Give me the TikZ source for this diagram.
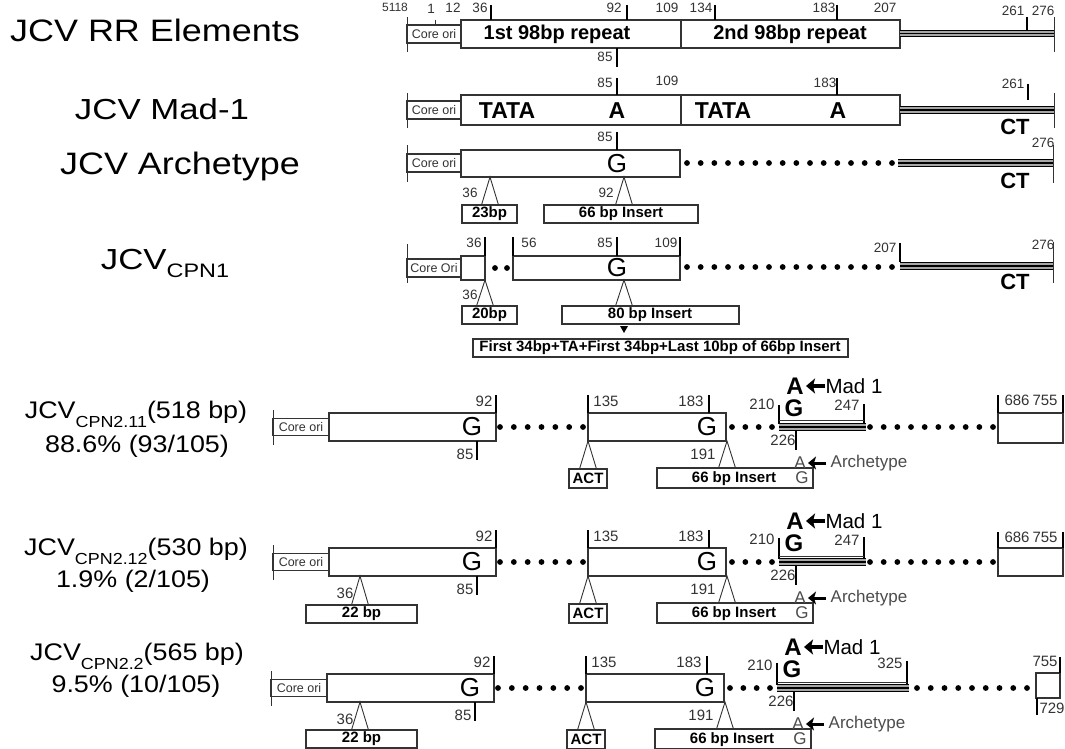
\documentclass[tikz,border=0pt]{standalone}
\usepackage{fontspec}
\setmainfont{Liberation Sans}
\usetikzlibrary{arrows.meta}
\newcommand\fs[1]{\fontsize{#1}{#1}\selectfont}
\newcommand\insmark[3]{\draw[thn] ({#1-8.5},{#3}) -- ({#1},{#2}) -- ({#1+8.5},{#3});}
\newcommand\dotrow[4]{\foreach \k in {0,...,#3}{\fill[black] ({#1+\k*(#2-#1)/#3},{#4}) circle[radius=2.9pt];}}
\newcommand\triline[3]{\fill[black!35] ({#1},{#3-3.3}) rectangle ({#2},{#3+3.3});
  \foreach \d in {-3.3,0,3.3}{\draw[line width=1.2pt] ({#1},{#3+(\d)}) -- ({#2},{#3+(\d)});}}
\newcommand\leftpart[2]{%
  \draw[thn] (273,{#1-17}) -- (273,{#1+18});
  \draw[ln] (273,{#1-8.5}) rectangle (329,{#1+8.5});
  \node[cori] (#2core) at (301,{#1}) {Core ori};
  \draw[ln] (329,{#1-14}) rectangle (496,{#1+14});
  \node[big] (#2ga) at (472,{#1}) {G};
  \draw[tk] (496,{#1-32}) -- (496,{#1-14});
  \node[numb] (#2na) at (484,{#1-26}) {92};
  \draw[tk] (477,{#1+14}) -- (477,{#1+33});
  \node[numb] (#2nb) at (465,{#1+27}) {85};
  \dotrow{500}{583}{6}{#1}
  \draw[ln] (588,{#1-14}) rectangle (726,{#1+14});
  \draw[tk] (588,{#1-32}) -- (588,{#1-14});
  \node[numb] (#2nc) at (606,{#1-26}) {135};
  \node[big] (#2gb) at (707,{#1}) {G};
  \draw[tk] (709,{#1-32}) -- (709,{#1-14});
  \node[numb] (#2nd) at (691,{#1-26}) {183};
  \insmark{588}{#1+14}{#1+42}
  \draw[ln] (569,{#1+42}) rectangle (607,{#1+61});
  \node[bb] (#2act) at (588,{#1+51.5}) {ACT};
  \insmark{727}{#1+14}{#1+41}
  \node[numb] (#2ne) at (703,{#1+27}) {191};
  \draw[ln] (657,{#1+41}) rectangle (813,{#1+61});
  \node[bb] (#2ins) at (734,{#1+51.5}) {66 bp Insert};
  \node[arct] (#2ig) at (802,{#1+51}) {G};
  \dotrow{732}{772}{3}{#1}
  \node[numb] (#2nf) at (762,{#1-23}) {210};
  \node[bigb] (#2gm) at (794,{#1-19}) {G};
  \node[bigb] (#2am) at (795,{#1-41}) {A};
  \draw[arr] (825,{#1-41}) -- (806,{#1-41});
  \node[madt] (#2mad) at (854,{#1-41}) {Mad 1};
  \draw[tk] (796,{#1+3}) -- (796,{#1+23});
  \node[numb] (#2ng) at (783,{#1+13}) {226};
  \node[arct] (#2aa) at (800,{#1+36}) {A};
  \draw[arr2] (826,{#1+36}) -- (808,{#1+36});
  \node[arct] (#2arc) at (869,{#1+36}) {Archetype};
}
\begin{document}
\begin{tikzpicture}[x=1pt,y=-1pt,
  ln/.style={draw=black!80,line width=1.1pt},
  thn/.style={draw=black!80,line width=0.9pt},
  tk/.style={draw=black,line width=2.6pt},
  num/.style={inner sep=0pt,text=black!80,font=\fs{13.5}},
  numb/.style={inner sep=0pt,text=black!80,font=\fs{15}},
  cori/.style={inner sep=0pt,text=black!80,font=\fs{12.5}},
  bb/.style={inner sep=0pt,font=\fs{15}\bfseries},
  rep/.style={inner sep=0pt,font=\fs{20}\bfseries},
  tata/.style={inner sep=0pt,font=\fs{23}\bfseries},
  ct/.style={inner sep=0pt,font=\fs{22}\bfseries},
  big/.style={inner sep=0pt,font=\fs{26}},
  bigb/.style={inner sep=0pt,font=\fs{24}\bfseries},
  madt/.style={inner sep=0pt,font=\fs{20.5}},
  arct/.style={inner sep=0pt,text=black!70,font=\fs{17}},
  arr/.style={line width=3.4pt,-{Stealth[length=9pt,width=15pt,inset=2pt]}},
  arr2/.style={line width=3pt,-{Stealth[length=8pt,width=13pt,inset=2pt]}},
  lab/.style={inner sep=0pt,anchor=base}
]
\useasboundingbox[fill=white] (0,0) rectangle (1065,749);

% ---------- left labels ----------
\node[lab] (l1) at (155,42) {\scalebox{1.16}[1]{\fs{31}JCV RR Elements}};
\node[lab] (l2) at (162,120) {\scalebox{1.2}[1]{\fs{29}JCV Mad-1}};
\node[lab] (l3) at (180,175) {\scalebox{1.16}[1]{\fs{31}JCV Archetype}};
\node[lab] (l4) at (165,269) {\scalebox{1.2}[1]{\fs{29}JCV\fs{19.5}\raisebox{-8pt}{CPN1}}};
\node[lab] (l5) at (136,418) {\scalebox{1.12}[1]{\fs{24}JCV\fs{16}\raisebox{-9pt}{CPN2.11}\fs{24}(518 bp)}};
\node[lab] (l5b) at (137,452) {\scalebox{1.12}[1]{\fs{24}88.6\% (93/105)}};
\node[lab] (l6) at (136,555) {\scalebox{1.12}[1]{\fs{24}JCV\fs{16}\raisebox{-9pt}{CPN2.12}\fs{24}(530 bp)}};
\node[lab] (l6b) at (133,587) {\scalebox{1.12}[1]{\fs{24}1.9\% (2/105)}};
\node[lab] (l7) at (137,660) {\scalebox{1.12}[1]{\fs{24}JCV\fs{16}\raisebox{-9pt}{CPN2.2}\fs{24}(565 bp)}};
\node[lab] (l7b) at (136,692) {\scalebox{1.12}[1]{\fs{24}9.5\% (10/105)}};

% ---------- Row 1: RR elements ----------
\draw[thn] (407,17) -- (407,52);
\draw[ln] (407,25) rectangle (461,43);
\node[cori] (c1) at (434,34) {Core ori};
\draw[thn] (435,20) -- (435,25);
\draw[ln] (461,20) rectangle (681,48);
\draw[ln] (681,20) rectangle (900,48);
\node[rep] (r1a) at (557,34) {1st 98bp repeat};
\node[rep] (r1b) at (790,34) {2nd 98bp repeat};
\triline{900}{1054}{33.5}
\draw[thn] (1054,17) -- (1054,52);
\draw[tk] (491,5) -- (491,20);
\draw[tk] (627,5) -- (627,20);
\draw[tk] (715,5) -- (715,20);
\draw[tk] (837,5) -- (837,20);
\draw[tk] (1027,17) -- (1027,30);
\draw[tk] (617,48) -- (617,67);
\node[num,font=\fs{12}] (t1a) at (395,7) {5118};
\node[num] (t1b) at (431,9) {1};
\node[num] (t1c) at (453,8) {12};
\node[num] (t1d) at (480,8) {36};
\node[num] (t1e) at (614,8) {92};
\node[num] (t1f) at (667,8) {109};
\node[num] (t1g) at (701,8) {134};
\node[num] (t1h) at (824,8) {183};
\node[num] (t1i) at (885,8) {207};
\node[num] (t1j) at (1013,11) {261};
\node[num] (t1k) at (1043,11) {276};
\node[num] (t1l) at (605,57) {85};

% ---------- Row 2: Mad-1 ----------
\draw[thn] (407,93) -- (407,128);
\draw[ln] (407,101) rectangle (461,119);
\node[cori] (c2) at (434,110) {Core ori};
\draw[ln] (461,95) rectangle (681,125);
\draw[ln] (681,95) rectangle (900,125);
\node[tata] (m1) at (507,111) {TATA};
\node[tata] (m2) at (617,111) {A};
\node[tata] (m3) at (723,111) {TATA};
\node[tata] (m4) at (838,111) {A};
\triline{900}{1054}{110}
\draw[thn] (1054,93) -- (1054,128);
\draw[tk] (617,78) -- (617,95);
\draw[tk] (837,78) -- (837,95);
\draw[tk] (1028,84) -- (1028,100);
\node[num] (t2a) at (605,83) {85};
\node[num] (t2b) at (667,81) {109};
\node[num] (t2c) at (825,83) {183};
\node[num] (t2d) at (1013,84) {261};
\node[ct] (ct2) at (1015,127) {CT};

% ---------- Row 3: Archetype ----------
\draw[thn] (407,145) -- (407,182);
\draw[ln] (407,154) rectangle (461,172);
\node[cori] (c3) at (434,163) {Core ori};
\draw[ln] (461,150) rectangle (680,177);
\node[big] (g3) at (617,164) {G};
\draw[tk] (617,132) -- (617,150);
\node[num] (t3a) at (605,137) {85};
\dotrow{687}{892}{15}{163}
\triline{898}{1053}{163}
\draw[thn] (1053,145) -- (1053,183);
\node[num] (t3b) at (1043,143) {276};
\node[ct] (ct3) at (1015,181) {CT};
\insmark{490}{177}{205}
\draw[ln] (462,205) rectangle (517,223);
\node[bb] (b3a) at (489.5,214) {23bp};
\node[num] (t3c) at (470,193) {36};
\insmark{624}{177}{205}
\draw[ln] (544,205) rectangle (698,223);
\node[bb] (b3b) at (621,214) {66 bp Insert};
\node[num] (t3d) at (606,193) {92};

% ---------- Row 4: CPN1 ----------
\draw[thn] (407,244) -- (407,283);
\draw[ln] (407,259) rectangle (461,277);
\node[cori] (c4) at (434,268) {Core Ori};
\draw[ln] (461,256) rectangle (485,280);
\draw[tk] (485,237) -- (485,256);
\node[num] (t4a) at (474,243) {36};
\dotrow{495}{507}{1}{268}
\draw[ln] (513,256) rectangle (680,280);
\draw[tk] (513,237) -- (513,256);
\node[num] (t4b) at (529,243) {56};
\draw[tk] (617,237) -- (617,256);
\node[num] (t4c) at (605,243) {85};
\draw[tk] (680,237) -- (680,256);
\node[num] (t4d) at (666,243) {109};
\node[big] (g4) at (617,268) {G};
\dotrow{687}{892}{15}{267}
\draw[tk] (900,243) -- (900,262);
\node[num] (t4e) at (885,248) {207};
\triline{900}{1053}{266}
\draw[thn] (1053,242) -- (1053,283);
\node[num] (t4f) at (1043,245) {276};
\node[ct] (ct4) at (1015,282) {CT};
\insmark{485}{280}{306}
\draw[ln] (462,306) rectangle (517,324);
\node[bb] (b4a) at (489.5,315) {20bp};
\node[num] (t4g) at (470,295) {36};
\insmark{624}{280}{306}
\draw[ln] (562,306) rectangle (739,324);
\node[bb] (b4b) at (650,315) {80 bp Insert};
\fill[black] (620,326) -- (628,326) -- (624,333) -- cycle;
\draw[ln] (473,339) rectangle (848,357);
\node[bb] (b4c) at (660,348) {First 34bp+TA+First 34bp+Last 10bp of 66bp Insert};

% ---------- Row 5: CPN2.11 ----------
\leftpart{427}{a}
\draw[tk] (779,405) -- (779,424);
\draw[tk] (864,404) -- (864,424);
\draw[thn] (779,420) -- (864,420);
\triline{779}{866}{427}
\node[numb] (a247) at (847,405) {247};
\dotrow{870}{993}{9}{427}
\draw[ln] (998,413) rectangle (1063,443);
\draw[tk] (998,395) -- (998,413);
\draw[tk] (1063,395) -- (1063,413);
\node[numb] (a686) at (1017,400) {686};
\node[numb] (a755) at (1045,400) {755};

% ---------- Row 6: CPN2.12 ----------
\leftpart{562}{b}
\insmark{360}{576}{605}
\draw[ln] (306,605) rectangle (417,623);
\node[bb] (b22) at (361.5,614) {22 bp};
\node[numb] (b36) at (345,593) {36};
\draw[tk] (779,538) -- (779,559);
\draw[tk] (864,537) -- (864,559);
\draw[thn] (779,556) -- (864,556);
\triline{779}{866}{562}
\node[numb] (b247) at (847,540) {247};
\dotrow{870}{993}{9}{562}
\draw[ln] (998,548) rectangle (1063,576);
\draw[tk] (998,532) -- (998,548);
\draw[tk] (1063,532) -- (1063,548);
\node[numb] (b686) at (1017,537) {686};
\node[numb] (b755) at (1045,537) {755};

% ---------- Row 7: CPN2.2 ----------
\begin{scope}[xshift=-2pt]
\leftpart{688}{c}
\end{scope}
\insmark{360}{702}{730}
\draw[ln] (306,730) rectangle (417,748);
\node[bb] (c22) at (361.5,739) {22 bp};
\node[numb] (c36) at (345,719) {36};
\draw[tk] (777,663) -- (777,685);
\draw[tk] (907,661) -- (907,685);
\draw[thn] (777,682) -- (907,682);
\triline{777}{909}{688}
\node[numb] (c325) at (890,663) {325};
\dotrow{917}{1027}{8}{688}
\draw[ln] (1036,673) rectangle (1060,698);
\draw[tk] (1060,657) -- (1060,673);
\draw[tk] (1037,698) -- (1037,715);
\node[numb] (c755) at (1045,661) {755};
\node[numb] (c729) at (1052,708) {729};
\end{tikzpicture}
\end{document}
